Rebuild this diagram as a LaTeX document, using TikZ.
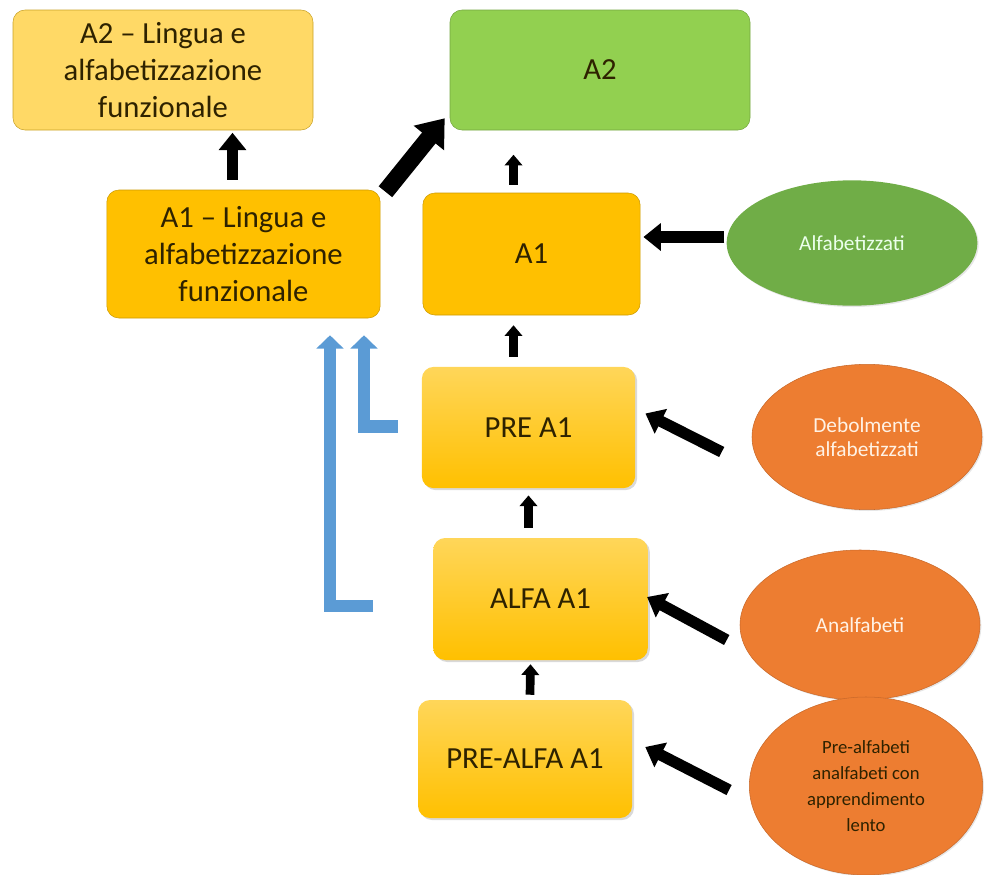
\documentclass[tikz,border=0pt]{standalone}
\usepackage{fontspec}
\setmainfont{Carlito}
\usetikzlibrary{shapes.geometric,arrows.meta,calc,shadows}
\definecolor{gold}{HTML}{FFC000}
\definecolor{goldlight}{HTML}{FFD966}
\definecolor{goldedge}{HTML}{C9A227}
\definecolor{leaf}{HTML}{92D050}
\definecolor{moss}{HTML}{70AD47}
\definecolor{carrot}{HTML}{ED7D31}
\definecolor{carrotedge}{HTML}{C9692A}
\definecolor{sky}{HTML}{5B9BD5}
\definecolor{ink}{HTML}{2E2200}
\begin{document}
\begin{tikzpicture}[x=0.75pt,y=-0.75pt,
    box/.style={rounded corners=9pt, align=center, text=ink, inner sep=0pt,
      font=\fontsize{23}{28}\selectfont},
    flatbox/.style={box, fill=gold, draw=gold!80!black, line width=0.4pt},
    gradbox/.style={box, top color=gold!65!white, bottom color=gold,
      drop shadow={opacity=0.3, shadow xshift=1.5pt, shadow yshift=-1.5pt}},
    oval/.style={ellipse, inner sep=0pt, align=center, line width=0.4pt,
      font=\fontsize{16}{17.5}\selectfont,
      drop shadow={opacity=0.2, shadow xshift=1pt, shadow yshift=-1pt}},
    blkbig/.style={draw=black, line width=13pt, -{Triangle[width=28pt,length=19pt]}},
    blkmid/.style={draw=black, line width=8.5pt, -{Triangle[width=20pt,length=13pt]}},
    blksmall/.style={draw=black, line width=6.5pt, -{Triangle[width=13pt,length=8pt]}},
    blu/.style={draw=sky, line width=9.5pt, line join=miter, -{Triangle[width=20pt,length=10pt]}}]
  \useasboundingbox (0,0) rectangle (990,875);

  \node[box, fill=goldlight, draw=goldedge, line width=0.4pt, minimum width=225pt, minimum height=90pt]
    (a2l) at (163,70) {A2 – Lingua e\\alfabetizzazione\\funzionale};
  \node[box, fill=leaf, draw=leaf!80!black, line width=0.4pt, minimum width=225pt, minimum height=90pt]
    (a2) at (600,70) {A2};
  \node[flatbox, minimum width=205pt, minimum height=96pt] (a1l) at (243.5,254)
    {A1 – Lingua e\\alfabetizzazione\\funzionale};
  \node[flatbox, minimum width=163pt, minimum height=91.5pt] (a1) at (531.5,254) {A1};
  \node[gradbox, minimum width=160pt, minimum height=91pt] (pre) at (528.5,427.5) {PRE A1};
  \node[gradbox, minimum width=161pt, minimum height=91.5pt] (alfa) at (540.5,599) {ALFA A1};
  \node[gradbox, minimum width=160.5pt, minimum height=88.5pt] (prealfa) at (525,759) {PRE-ALFA A1};

  \node[oval, fill=moss, text=green!8!white, minimum width=188pt, minimum height=94pt]
    (alf) at (852,243) {Alfabetizzati};
  \node[oval, fill=carrot, draw=carrotedge, text=orange!10!white, minimum width=172.5pt, minimum height=109pt]
    (deb) at (867,437) {Debolmente\\alfabetizzati};
  \node[oval, fill=carrot, draw=carrotedge, text=orange!10!white, minimum width=180pt, minimum height=112.5pt]
    (ana) at (860,625) {Analfabeti};
  \node[oval, fill=carrot, draw=carrotedge, text=ink, minimum width=175pt, minimum height=133.5pt,
    font=\fontsize{14}{19.5}\selectfont] (preal) at (866,786)
    {Pre-alfabeti\\analfabeti con\\apprendimento\\lento};

  \draw[blkmid] ($(a1l.north)+(-11,-10)$) -- ($(a1l.north)+(-11,-57)$);
  \draw[blkbig] ($(a1l.north east)+(5,2)$) -- ($(a2.south west)+(-5,-12)$);
  \draw[blksmall] ($(a1.north)+(-18,-8)$) -- ($(a1.north)+(-18,-38)$);
  \draw[blksmall] ($(pre.north)+(-15,-10)$) -- ($(a1.south)+(-18,10)$);
  \draw[blksmall] ($(alfa.north)+(-12,-10)$) -- ($(pre.south)+(0,7)$);
  \draw[blksmall] ($(prealfa.north)+(5,-5)$) -- ($(alfa.south)+(-10,4)$);

  \draw[blkmid] ($(alf.west)+(-2,-6)$) -- ($(a1.east)+(3,-17)$);
  \draw[blkmid] ($(deb.west)+(-30,15)$) -- ($(pre.east)+(10,-14)$);
  \draw[blkmid] ($(ana.west)+(-13,15)$) -- ($(alfa.east)+(-1,-2)$);
  \draw[blkmid] ($(preal.west)+(-20,4)$) -- ($(prealfa.east)+(13,-12)$);

  \draw[blu] ($(alfa.west)+(-60,7)$) -| ($(a1l.south)+(86.5,17)$);
  \draw[blu] ($(pre.west)+(-24,-1)$) -| ($(a1l.south)+(120.5,17)$);
\end{tikzpicture}
\end{document}
